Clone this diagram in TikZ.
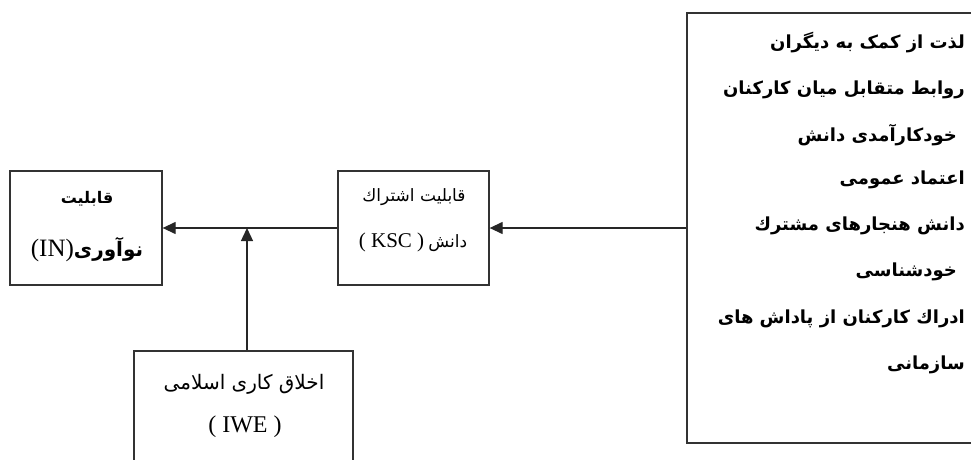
\documentclass[tikz,border=0pt]{standalone}
\usepackage{fontspec}
\setmainfont{Liberation Serif}
\newfontfamily\arabicfont[Script=Arabic]{DejaVu Sans}
\TeXXeTstate=1
\usetikzlibrary{arrows.meta}
% Persian text, right to left
\newcommand{\fatext}[1]{{\arabicfont\beginR #1\endR}}
\newcommand{\fsize}[1]{\fontsize{#1}{#1}\selectfont}
\tikzset{
  box/.style={draw=black!80, line width=1.3pt},
  link/.style={draw=black!85, line width=1.3pt, -{Triangle[length=13pt,width=12pt]}},
  txt/.style={inner sep=0pt, font=\fsize{17}},
  item/.style={txt, anchor=east, font=\fsize{18}\bfseries},
}
\begin{document}
\begin{tikzpicture}[x=1pt,y=-1pt]
\clip (0,0) rectangle (971,460);

% Draw the boxes
\node[box, minimum width=152pt, minimum height=114pt] (in) at (86,228) {};
\node[box, minimum width=151pt, minimum height=114pt] (ksc) at (413.5,228) {};
\node[box, minimum width=219pt, minimum height=129pt] (iwe) at (243.5,415.5) {};
\node[box, minimum width=303pt, minimum height=430pt] (src) at (838.5,228) {};

% Texts in the boxes
\node[txt, font=\fsize{16}\bfseries] (in1) at (87,199) {\fatext{قابلیت}};
\node[txt] (in2) at (87,250) {{\fsize{25}(IN)}{\fsize{20}\bfseries\fatext{نوآوری}}};
\node[txt] (ksc1) at (414,197) {\fatext{قابلیت اشتراك}};
\node[txt] (ksc2) at (413,242) {{\fsize{21}( KSC )}\ {\fatext{دانش}}};
\node[txt, font=\fsize{20}] (iwe1) at (244,384) {\fatext{اخلاق کاری اسلامی}};
\node[txt] (iwe2) at (245,427) {\fsize{24}( IWE )};

% Items in the right box
\node[item] (s1) at (965,43) {\fatext{لذت از کمک به دیگران}};
\node[item] (s2) at (965,90) {\fatext{روابط متقابل میان کارکنان}};
\node[item] (s3) at (957,135) {\fatext{خودکارآمدی دانش}};
\node[item] (s4) at (965,180) {\fatext{اعتماد عمومی}};
\node[item] (s5) at (965,226) {\fatext{دانش هنجارهای مشترك}};
\node[item] (s6) at (957,272) {\fatext{خودشناسی}};
\node[item] (s7) at (965,319) {\fatext{ادراك کارکنان از پاداش های}};
\node[item] (s8) at (965,365) {\fatext{سازمانی}};

% Arrows
\coordinate (join) at (247,228);
\draw[link] (src.west) -- (ksc.east);
\draw[link] (ksc.west) -- (in.east);
\draw[link] (join |- iwe.north) -- (join);
\end{tikzpicture}
\end{document}
